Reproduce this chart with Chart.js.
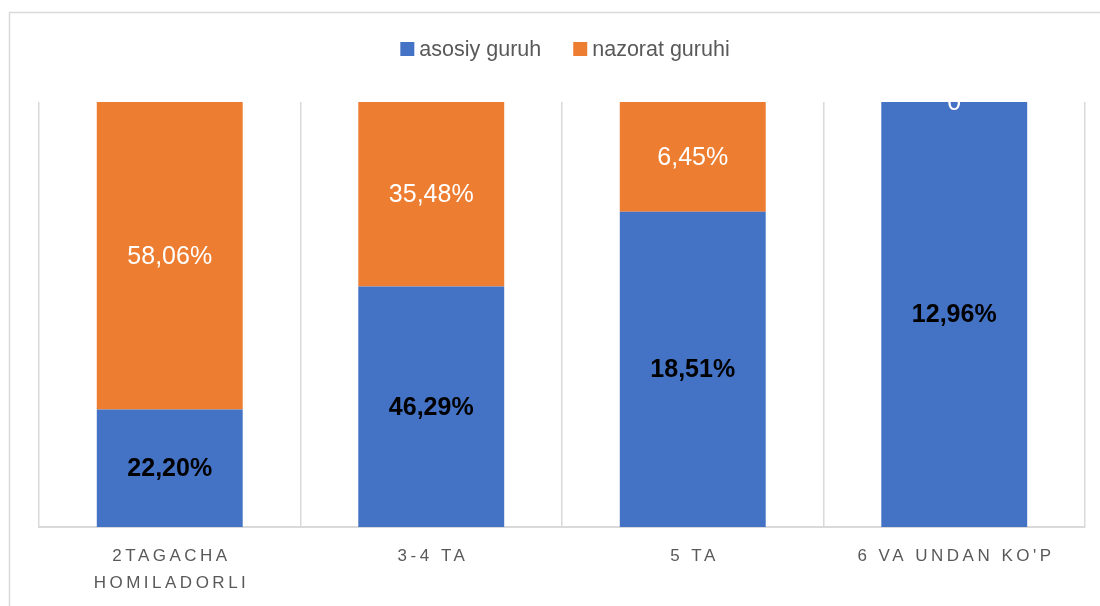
<!DOCTYPE html>
<html>
<head>
<meta charset="utf-8">
<style>
  html, body { margin: 0; padding: 0; background: #ffffff; }
  #wrap { position: relative; width: 1100px; height: 606px; }
</style>
<script src="https://cdn.jsdelivr.net/npm/chart.js@4"></script>
</head>
<body>
<div id="wrap"><canvas id="chart" width="1100" height="606"></canvas></div>
<script>
// Number of pregnancies, share of women per group
const categories = [['2TAGACHA', 'HOMILADORLI'], '3-4 TA', '5 TA', "6 VA UNDAN KO'P"];
const seriesNames = ['asosiy guruh', 'nazorat guruhi'];
const asosiyGuruh = [22.20, 46.29, 18.51, 12.96];
const nazoratGuruhi = [58.06, 35.48, 6.45, 0];

const BLUE = '#4472C4';
const ORANGE = '#ED7D31';
const FONT = "'Liberation Sans', Arial, sans-serif";

// 100% stacked: each column is split by the two raw values
const totals = asosiyGuruh.map((v, i) => v + nazoratGuruhi[i]);
const share = arr => arr.map((v, i) => totals[i] ? v / totals[i] * 100 : 0);
const rawBySeries = [asosiyGuruh, nazoratGuruhi];

const fmt = v => v === 0 ? '0' : v.toFixed(2).replace('.', ',') + '%';

// Outer frame of the chart
const framePlugin = {
  id: 'frame',
  beforeDraw(chart) {
    const ctx = chart.ctx;
    ctx.save();
    ctx.strokeStyle = '#d9d9d9';
    ctx.lineWidth = 1.5;
    ctx.strokeRect(9.5, 12.5, 1200, 700);
    ctx.restore();
  }
};

// Legend row above the plot
const legendPlugin = {
  id: 'legendRow',
  afterDraw(chart) {
    const ctx = chart.ctx;
    ctx.save();
    ctx.font = '21.5px ' + FONT;
    ctx.textBaseline = 'middle';
    const box = 14, gapText = 5, gapItem = 32;
    const items = chart.data.datasets.map(d => ({ label: d.label, color: d.backgroundColor, w: ctx.measureText(d.label).width }));
    const total = items.reduce((s, it) => s + box + gapText + it.w, 0) + gapItem * (items.length - 1);
    let x = chart.width / 2 - total / 2 + 15;
    const y = 49;
    items.forEach(it => {
      ctx.fillStyle = it.color;
      ctx.fillRect(x, y - box / 2, box, box);
      ctx.fillStyle = '#595959';
      ctx.fillText(it.label, x + box + gapText, y + 1);
      x += box + gapText + it.w + gapItem;
    });
    ctx.restore();
  }
};

// Spaced capital category labels under the axis
const categoryLabelPlugin = {
  id: 'categoryLabels',
  afterDraw(chart) {
    const ctx = chart.ctx;
    const xs = chart.scales.x;
    const bottom = chart.chartArea.bottom;
    ctx.save();
    ctx.font = '17px ' + FONT;
    ctx.fillStyle = '#595959';
    ctx.textAlign = 'center';
    ctx.textBaseline = 'middle';
    const sp = 3.5;
    if ('letterSpacing' in ctx) ctx.letterSpacing = sp + 'px';
    chart.data.labels.forEach((lab, i) => {
      const lines = Array.isArray(lab) ? lab : [lab];
      const x = xs.getPixelForValue(i) + sp / 2;
      lines.forEach((t, j) => ctx.fillText(t, x, bottom + 29 + j * 27));
    });
    ctx.restore();
  }
};

// Value labels centred in each segment, clipped to the plot
const valueLabelPlugin = {
  id: 'valueLabels',
  afterDatasetsDraw(chart) {
    const ctx = chart.ctx;
    const area = chart.chartArea;
    ctx.save();
    ctx.beginPath();
    ctx.rect(area.left, area.top, area.right - area.left, area.bottom - area.top);
    ctx.clip();
    ctx.textAlign = 'center';
    ctx.textBaseline = 'middle';
    chart.data.datasets.forEach((ds, di) => {
      const meta = chart.getDatasetMeta(di);
      meta.data.forEach((bar, i) => {
        const v = rawBySeries[di][i];
        const cy = (bar.y + bar.base) / 2;
        if (di === 0) {
          ctx.font = 'bold 25px ' + FONT;
          ctx.fillStyle = '#000000';
        } else {
          ctx.font = '25px ' + FONT;
          ctx.fillStyle = '#ffffff';
        }
        ctx.fillText(fmt(v), bar.x, cy + 1);
      });
    });
    ctx.restore();
  }
};

new Chart(document.getElementById('chart'), {
  type: 'bar',
  data: {
    labels: categories,
    datasets: [
      { label: seriesNames[0], data: share(asosiyGuruh), backgroundColor: BLUE, borderWidth: 0 },
      { label: seriesNames[1], data: share(nazoratGuruhi), backgroundColor: ORANGE, borderWidth: 0 }
    ]
  },
  options: {
    responsive: false,
    animation: false,
    layout: { padding: { top: 102, left: 39, right: 15, bottom: 79 } },
    datasets: { bar: { categoryPercentage: 1, barPercentage: 0.558 } },
    plugins: {
      legend: { display: false },
      tooltip: { enabled: false }
    },
    scales: {
      x: {
        stacked: true,
        grid: { display: true, offset: true, color: '#d9d9d9', lineWidth: 1.5, drawTicks: false },
        border: { display: true, color: '#d9d9d9', width: 2 },
        ticks: { display: false }
      },
      y: {
        stacked: true,
        display: false,
        min: 0,
        max: 100
      }
    }
  },
  plugins: [framePlugin, legendPlugin, categoryLabelPlugin, valueLabelPlugin]
});
</script>
</body>
</html>
